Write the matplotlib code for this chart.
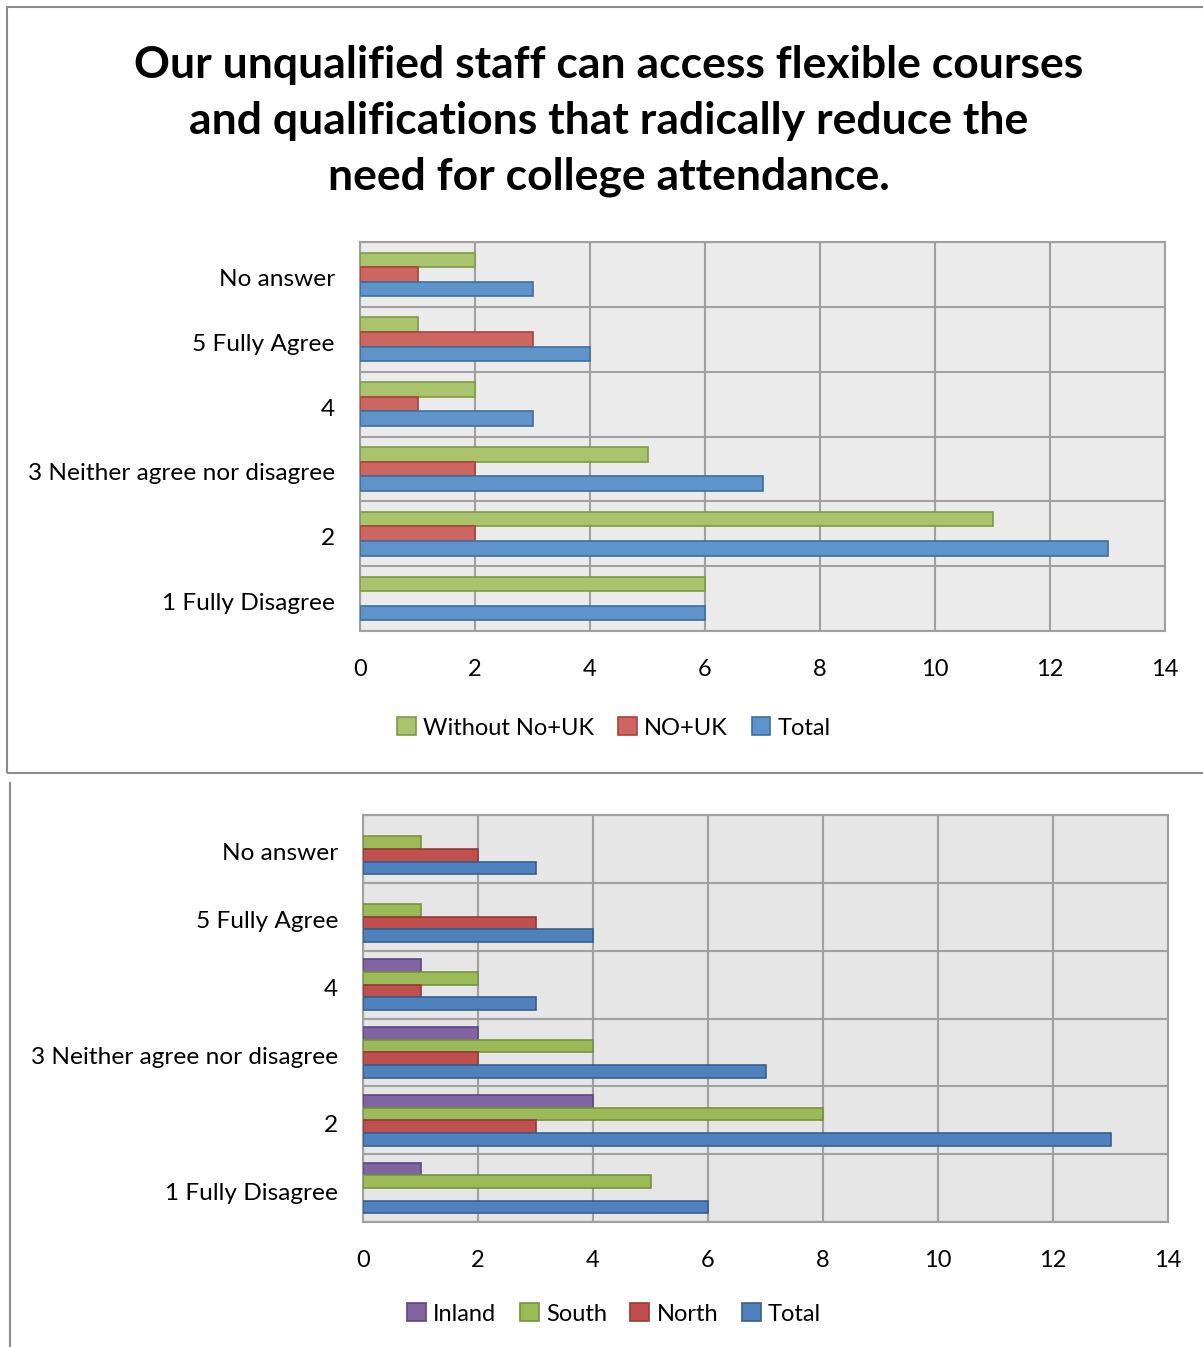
import matplotlib
matplotlib.use("Agg")
import matplotlib.pyplot as plt
import numpy as np
from matplotlib.patches import Rectangle, Patch
from matplotlib.lines import Line2D
from matplotlib.transforms import ScaledTranslation

plt.rcParams['font.family'] = ['Lato', 'DejaVu Sans']

W, H = 1203, 1347
DPI = 100

title = ("Our unqualified staff can access flexible courses\n"
         "and qualifications that radically reduce the\n"
         "need for college attendance.")

categories = ["1 Fully Disagree", "2", "3 Neither agree nor disagree", "4",
              "5 Fully Agree", "No answer"]
xticks = [0, 2, 4, 6, 8, 10, 12, 14]

# Upper chart: split by Norway+UK
top_series = ["Without No+UK", "NO+UK", "Total"]
without_no_uk = [6, 11, 5, 2, 1, 2]
no_uk = [0, 2, 2, 1, 3, 1]
total_top = [6, 13, 7, 3, 4, 3]

# Lower chart: split by region
bottom_series = ["Inland", "South", "North", "Total"]
inland = [1, 4, 2, 1, 0, 0]
south = [5, 8, 4, 2, 1, 1]
north = [0, 3, 2, 1, 3, 2]
total_bottom = [6, 13, 7, 3, 4, 3]

top_fill = ["#A9C46C", "#CD6660", "#5E94C9"]
top_edge = ["#7E9A45", "#A8423D", "#3F6E9E"]
bot_fill = ["#8064A2", "#9BBB59", "#C0504D", "#4F81BD"]
bot_edge = ["#5E4880", "#76923C", "#943B38", "#365F91"]

fig = plt.figure(figsize=(W / DPI, H / DPI), dpi=DPI)


def fx(px):
    return px / W


def fy(py):
    return 1 - py / H


# panel frames
fig.add_artist(Rectangle((fx(7), fy(773)), fx(1215) - fx(7), fy(7) - fy(773),
                         transform=fig.transFigure, fill=False,
                         edgecolor="#8C8C8C", linewidth=1.5))
fig.add_artist(Line2D([fx(10), fx(10)], [fy(783), fy(1352)],
                      transform=fig.transFigure, color="#8C8C8C", linewidth=1.5))

fig.text(fx(609), fy(121), title, ha="center", va="center", fontsize=32,
         fontweight="bold", linespacing=1.49, color="black")


def draw_panel(rect, series_vals, names, fills, edges, bg, bar_h, legend_y):
    ax = fig.add_axes(rect)
    n = len(series_vals)
    y = np.arange(len(categories))
    for i, (vals, f, e) in enumerate(zip(series_vals, fills, edges)):
        # first series sits on top within each group
        offset = ((n - 1) / 2 - i) * bar_h
        lw = [1.2 if v > 0 else 0 for v in vals]
        ax.barh(y + offset, vals, height=bar_h, color=f, edgecolor=e,
                linewidth=lw, zorder=3)
    ax.set_facecolor(bg)
    ax.set_xlim(0, 14)
    ax.set_ylim(-0.5, len(categories) - 0.5)
    ax.set_xticks(xticks)
    ax.set_xticklabels([str(t) for t in xticks])
    ax.set_yticks(y)
    ax.set_yticklabels(categories)
    ax.set_yticks(np.arange(len(categories) + 1) - 0.5, minor=True)
    ax.grid(True, axis="x", which="major", color="#A0A0A0", linewidth=1.5, zorder=1)
    ax.grid(True, axis="y", which="minor", color="#A0A0A0", linewidth=1.5, zorder=1)
    ax.tick_params(axis="both", which="both", length=0, labelsize=17,
                   colors="black")
    ax.tick_params(axis="y", labelsize=17.6, pad=18)
    ax.tick_params(axis="x", pad=20)
    # nudge category labels slightly downward
    shift = ScaledTranslation(0, -3 / DPI, fig.dpi_scale_trans)
    for lbl in ax.get_yticklabels():
        lbl.set_transform(lbl.get_transform() + shift)
    for s in ax.spines.values():
        s.set_color("#A0A0A0")
        s.set_linewidth(1.5)
    handles = [Patch(facecolor=f, edgecolor=e, linewidth=1.2)
               for f, e in zip(fills, edges)]
    fig.legend(handles, names, loc="center", bbox_to_anchor=(fx(614), fy(legend_y)),
               ncol=len(names), frameon=False, fontsize=17, handlelength=0.8,
               handleheight=0.8, handletextpad=0.3, columnspacing=1.0)
    return ax


draw_panel([fx(360), fy(631), fx(1165) - fx(360), fy(242) - fy(631)],
           [without_no_uk, no_uk, total_top], top_series, top_fill, top_edge,
           "#EBEBEB", 0.224, 728)

draw_panel([fx(363), fy(1222), fx(1168) - fx(363), fy(815) - fy(1222)],
           [inland, south, north, total_bottom], bottom_series, bot_fill, bot_edge,
           "#E6E6E6", 0.187, 1314)

fig.savefig("out.png", dpi=DPI)
